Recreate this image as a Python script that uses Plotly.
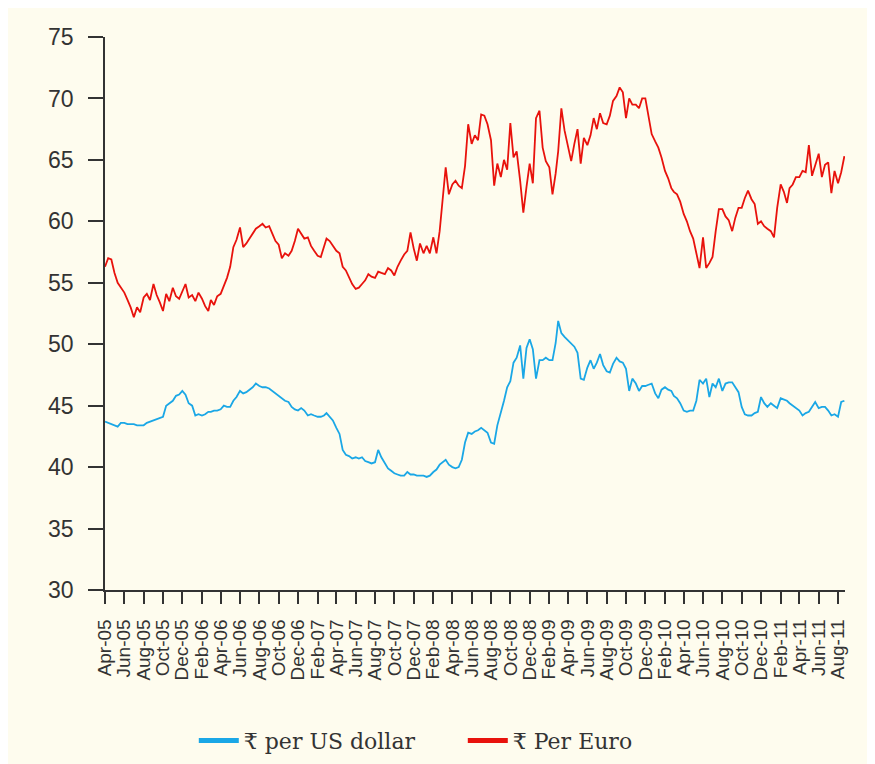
import pandas as pd
import plotly.graph_objects as go

# three readings per month (1st, 11th, 21st), Apr-2005 .. Aug-2011
months = pd.date_range("2005-04-01", "2011-08-01", freq="MS")
days = [1, 11, 21]
dates = [m + pd.Timedelta(days=d - 1) for m in months for d in days]

rs_per_euro = [
    56.3, 57.0, 56.9, 55.8, 55.0, 54.6, 54.2, 53.6, 53.0,   # Apr-Jun 05
    52.2, 53.0, 52.6, 53.8, 54.1, 53.6, 54.9, 54.0, 53.4,   # Jul-Sep 05
    52.7, 54.1, 53.5, 54.6, 53.9, 53.7, 54.3, 54.9, 53.8,   # Oct-Dec 05
    54.0, 53.5, 54.2, 53.7, 53.1, 52.7, 53.6, 53.2, 53.9,   # Jan-Mar 06
    54.1, 54.8, 55.4, 56.3, 57.9, 58.5, 59.5, 57.9, 58.2,   # Apr-Jun 06
    58.6, 59.0, 59.4, 59.6, 59.8, 59.5, 59.6, 59.0, 58.4,   # Jul-Sep 06
    58.1, 57.0, 57.4, 57.2, 57.6, 58.4, 59.4, 59.0, 58.6,   # Oct-Dec 06
    58.7, 58.0, 57.6, 57.2, 57.1, 57.9, 58.6, 58.4, 58.0,   # Jan-Mar 07
    57.6, 57.4, 56.3, 56.0, 55.4, 54.9, 54.5, 54.6, 54.9,   # Apr-Jun 07
    55.2, 55.7, 55.5, 55.4, 55.9, 55.8, 55.7, 56.2, 56.0,   # Jul-Sep 07
    55.6, 56.3, 56.8, 57.3, 57.6, 59.1, 57.8, 56.8, 58.2,   # Oct-Dec 07
    57.4, 58.0, 57.4, 58.7, 57.4, 59.2, 62.0, 64.4, 62.2,   # Jan-Mar 08
    63.0, 63.3, 62.9, 62.7, 64.5, 67.9, 66.3, 67.0, 66.6,   # Apr-Jun 08
    68.7, 68.6, 67.9, 66.6, 62.9, 64.7, 63.6, 65.0, 64.2,   # Jul-Sep 08
    68.0, 65.2, 65.7, 63.3, 60.7, 62.8, 64.7, 63.1, 68.4,   # Oct-Dec 08
    69.0, 66.0, 64.9, 64.4, 62.2, 63.9, 65.7, 69.2, 67.4,   # Jan-Mar 09
    66.0, 64.9, 66.3, 67.5, 64.7, 66.8, 66.2, 67.0, 68.4,   # Apr-Jun 09
    67.5, 68.8, 68.0, 67.9, 68.6, 69.8, 70.2, 70.9, 70.5,   # Jul-Sep 09
    68.4, 70.0, 69.5, 69.5, 69.2, 70.0, 70.0, 68.4, 67.1,   # Oct-Dec 09
    66.5, 66.0, 65.2, 64.1, 63.5, 62.7, 62.4, 62.2, 61.6,   # Jan-Mar 10
    60.6, 60.0, 59.2, 58.6, 57.4, 56.2, 58.7, 56.2, 56.6,   # Apr-Jun 10
    57.1, 59.2, 61.0, 61.0, 60.4, 60.1, 59.2, 60.3, 61.1,   # Jul-Sep 10
    61.1, 61.9, 62.5, 61.8, 61.4, 59.8, 60.0, 59.6, 59.4,   # Oct-Dec 10
    59.2, 58.7, 61.1, 63.0, 62.4, 61.5, 62.7, 63.0, 63.6,   # Jan-Mar 11
    63.6, 64.1, 64.0, 66.2, 63.7, 64.5, 65.5, 63.6, 64.6,   # Apr-Jun 11
    64.8, 62.3, 64.1, 63.1, 64.0, 65.3,                     # Jul-Aug 11
]

rs_per_dollar = [
    43.7, 43.6, 43.5, 43.4, 43.3, 43.6, 43.6, 43.5, 43.5,   # Apr-Jun 05
    43.5, 43.4, 43.4, 43.4, 43.6, 43.7, 43.8, 43.9, 44.0,   # Jul-Sep 05
    44.1, 45.0, 45.2, 45.4, 45.8, 45.9, 46.2, 45.9, 45.2,   # Oct-Dec 05
    45.0, 44.2, 44.3, 44.2, 44.3, 44.5, 44.5, 44.6, 44.6,   # Jan-Mar 06
    44.7, 45.0, 44.9, 44.9, 45.4, 45.7, 46.2, 46.0, 46.1,   # Apr-Jun 06
    46.3, 46.5, 46.8, 46.6, 46.5, 46.5, 46.4, 46.2, 46.0,   # Jul-Sep 06
    45.8, 45.6, 45.4, 45.3, 44.9, 44.7, 44.6, 44.8, 44.6,   # Oct-Dec 06
    44.2, 44.3, 44.2, 44.1, 44.1, 44.2, 44.4, 44.1, 43.8,   # Jan-Mar 07
    43.2, 42.7, 41.4, 41.0, 40.9, 40.7, 40.8, 40.7, 40.8,   # Apr-Jun 07
    40.5, 40.4, 40.3, 40.4, 41.4, 40.8, 40.3, 39.9, 39.7,   # Jul-Sep 07
    39.5, 39.4, 39.3, 39.3, 39.6, 39.4, 39.4, 39.3, 39.3,   # Oct-Dec 07
    39.3, 39.2, 39.3, 39.6, 39.8, 40.2, 40.4, 40.6, 40.2,   # Jan-Mar 08
    40.0, 39.9, 40.0, 40.6, 42.0, 42.8, 42.7, 42.9, 43.0,   # Apr-Jun 08
    43.2, 43.0, 42.8, 42.0, 41.9, 43.4, 44.4, 45.4, 46.5,   # Jul-Sep 08
    47.0, 48.5, 48.9, 49.9, 47.2, 49.7, 50.4, 49.6, 47.2,   # Oct-Dec 08
    48.7, 48.7, 48.9, 48.7, 48.7, 50.1, 51.9, 50.9, 50.6,   # Jan-Mar 09
    50.3, 50.1, 49.8, 49.3, 47.2, 47.1, 48.1, 48.7, 48.0,   # Apr-Jun 09
    48.5, 49.2, 48.3, 47.8, 47.7, 48.4, 48.9, 48.6, 48.5,   # Jul-Sep 09
    48.0, 46.2, 47.2, 46.8, 46.2, 46.6, 46.6, 46.7, 46.8,   # Oct-Dec 09
    46.0, 45.6, 46.3, 46.5, 46.3, 46.2, 45.8, 45.6, 45.2,   # Jan-Mar 10
    44.6, 44.5, 44.6, 44.6, 45.4, 47.1, 46.8, 47.2, 45.7,   # Apr-Jun 10
    46.8, 46.5, 47.2, 46.2, 46.8, 46.9, 46.9, 46.5, 46.1,   # Jul-Sep 10
    44.9, 44.3, 44.2, 44.2, 44.4, 44.5, 45.7, 45.2, 44.9,   # Oct-Dec 10
    45.2, 45.0, 44.8, 45.6, 45.5, 45.4, 45.2, 45.0, 44.8,   # Jan-Mar 11
    44.6, 44.2, 44.4, 44.5, 44.9, 45.3, 44.8, 44.9, 44.9,   # Apr-Jun 11
    44.6, 44.2, 44.3, 44.1, 45.3, 45.4,                     # Jul-Aug 11
]

series_names = ["₹ per US dollar", "₹ Per Euro"]
series_colors = ["#1aa7e6", "#e8120c"]

n = min(len(dates), len(rs_per_euro), len(rs_per_dollar))
dates = dates[:n]

cream = "#fefcee"
axis_col = "#333333"

fig = go.Figure()
for vals, name, col in zip([rs_per_dollar, rs_per_euro], series_names, series_colors):
    fig.add_trace(go.Scatter(x=dates, y=vals[:n], mode="lines", name=name, showlegend=False,
                             line=dict(color=col, width=1.8)))
# legend entries with the thick swatch used in the original
for name, col in zip(series_names, series_colors):
    fig.add_trace(go.Scatter(x=[None], y=[None], mode="lines", name=name,
                             line=dict(color=col, width=5)))

# x-axis line stub to the left of the y axis
fig.add_shape(type="line", xref="paper", yref="paper", x0=-0.018, x1=0, y0=0, y1=0,
              line=dict(color=axis_col, width=1.5))

fig.update_layout(
    width=875, height=764,
    margin=dict(l=97, r=38, t=29, b=181),
    paper_bgcolor=cream,
    plot_bgcolor=cream,
    font=dict(family="Liberation Sans, Arial, sans-serif", color=axis_col),
    showlegend=True,
    legend=dict(orientation="h", x=0.12, xanchor="left", y=-0.27, yanchor="middle",
                font=dict(family="DejaVu Serif, Liberation Serif, serif", size=22, color=axis_col),
                bgcolor="rgba(0,0,0,0)", itemwidth=40, tracegroupgap=0,
                entrywidth=214),
)
fig.update_xaxes(
    range=["2005-04-01", "2011-08-23"],
    tick0="2005-04-01", dtick="M2", tickformat="%b-%y", tickangle=-90,
    ticks="outside", ticklen=12, tickwidth=1.5, tickcolor=axis_col,
    showline=True, linecolor=axis_col, linewidth=1.5,
    showgrid=False, zeroline=False, ticklabelstandoff=8,
    tickfont=dict(size=19, family="Liberation Sans, Arial, sans-serif", color=axis_col),
)
fig.update_yaxes(
    range=[30, 75], dtick=5,
    ticks="outside", ticklen=15, tickwidth=1.5, tickcolor=axis_col,
    showline=True, linecolor=axis_col, linewidth=1.5,
    showgrid=False, zeroline=False, ticklabelstandoff=10,
    tickfont=dict(size=23, family="Liberation Sans, Arial, sans-serif", color=axis_col),
)

fig.write_html("out.html")
